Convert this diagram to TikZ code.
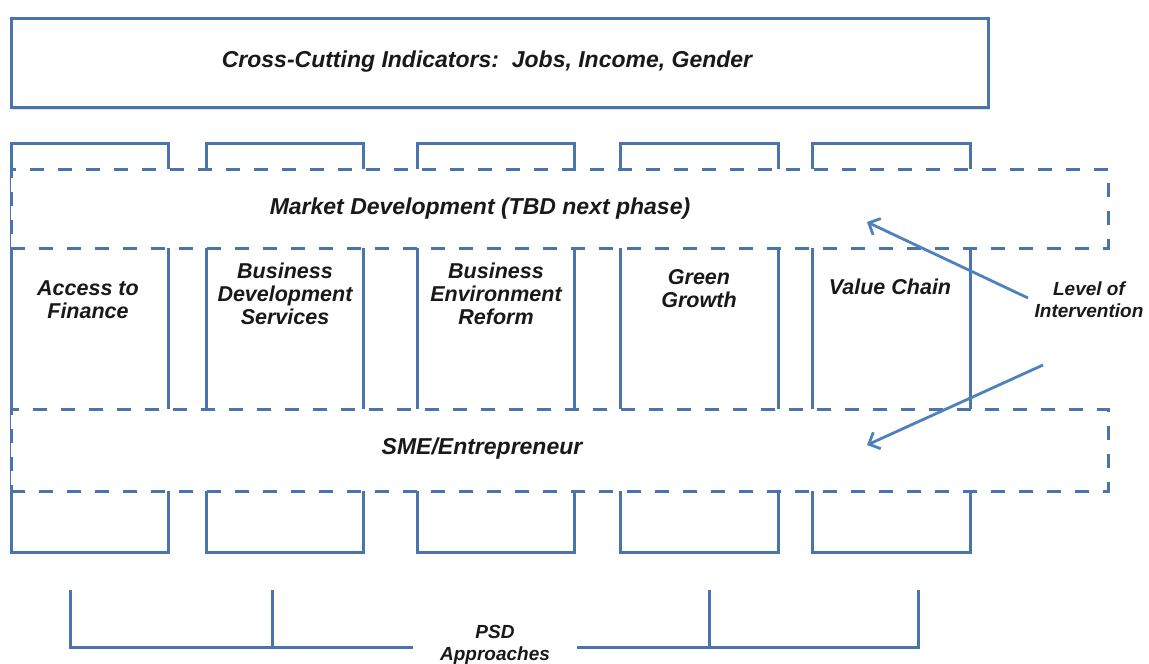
\documentclass[tikz,border=0pt]{standalone}
\usepackage{fontspec}
\setmainfont{Liberation Sans}
\usetikzlibrary{arrows.meta,shadows}
\definecolor{lineblue}{RGB}{76,116,172}
\definecolor{arrowblue}{RGB}{79,129,189}
\tikzset{
  frame/.style={draw=lineblue, line width=3pt, fill=white, inner sep=0pt, outer sep=0pt},
  pillar/.style={frame, minimum height=409pt},
  band/.style={draw=lineblue, line width=3pt, dash pattern=on 14pt off 14pt, fill=white,
               inner sep=0pt, outer sep=0pt, minimum width=1097pt},
  head/.style={font=\fontsize{23}{26}\selectfont\bfseries\itshape, text=black!90},
  colt/.style={font=\fontsize{21.5}{23}\selectfont\bfseries\itshape, align=center, text=black!90},
  small/.style={font=\fontsize{19}{22}\selectfont\bfseries\itshape, align=center, text=black!90,
                inner sep=0pt},
  link/.style={draw=lineblue, line width=3pt},
  pointer/.style={draw=arrowblue, line width=2.8pt, -{Straight Barb[length=9pt,width=18pt]}}
}
\begin{document}
\begin{tikzpicture}[x=1pt,y=-1pt]
\useasboundingbox (0,0) rectangle (1149,664);

% cross-cutting indicators
\node[frame, minimum width=977pt, minimum height=89pt,
      drop shadow={opacity=0.25, shadow xshift=1.5pt, shadow yshift=-2.5pt}]
      (top) at (499.5,62.5) {};
\node[head] (toptxt) at (487,62) {Cross-Cutting Indicators:\ \ Jobs, Income, Gender};

% the five PSD pillars
\node[pillar, minimum width=157pt] (p1) at (89.5,347.5) {};
\node[pillar, minimum width=157pt] (p2) at (284.5,347.5) {};
\node[pillar, minimum width=157pt] (p3) at (495.5,347.5) {};
\node[pillar, minimum width=158pt] (p4) at (699,347.5) {};
\node[pillar, minimum width=158pt] (p5) at (891,347.5) {};

% levels of intervention crossing the pillars
\node[band, minimum height=79pt] (mkt) at (559.5,208.5) {};
\node[band, minimum height=82pt] (sme) at (559.5,450) {};
\node[head] (mkttxt) at (480,209) {Market Development (TBD next phase)};
\node[head] (smetxt) at (482,449) {SME/Entrepreneur};

% pillar titles
\node[colt] (t1) at (88,300) {Access to\\Finance};
\node[colt] (t2) at (285,294) {Business\\Development\\Services};
\node[colt] (t3) at (496,294) {Business\\Environment\\Reform};
\node[colt] (t4) at (699,289) {Green\\Growth};
\node[colt] (t5) at (890,287) {Value Chain};

% level of intervention pointers
\node[small] (loi) at (1089,300) {Level of\\Intervention};
\coordinate (a1s) at (1028,298);
\coordinate (a1e) at (867,222);
\coordinate (a2s) at (1043,365);
\coordinate (a2e) at (867,445);
\draw[pointer] (a1s) -- (a1e);
\draw[pointer] (a2s) -- (a2e);

% PSD approaches bracket
\node[small] (psd) at (495,645) {PSD\\Approaches};
\coordinate (bL) at (70,590);
\coordinate (bA) at (272,590);
\coordinate (bB) at (709,590);
\coordinate (bR) at (918,590);
\coordinate (gL) at (413,647);
\coordinate (gR) at (577,647);
\draw[link] (bL) |- (gL);
\draw[link] (bA) -- (bA |- gL);
\draw[link] (bR) |- (gR);
\draw[link] (bB) -- (bB |- gR);
\end{tikzpicture}
\end{document}
